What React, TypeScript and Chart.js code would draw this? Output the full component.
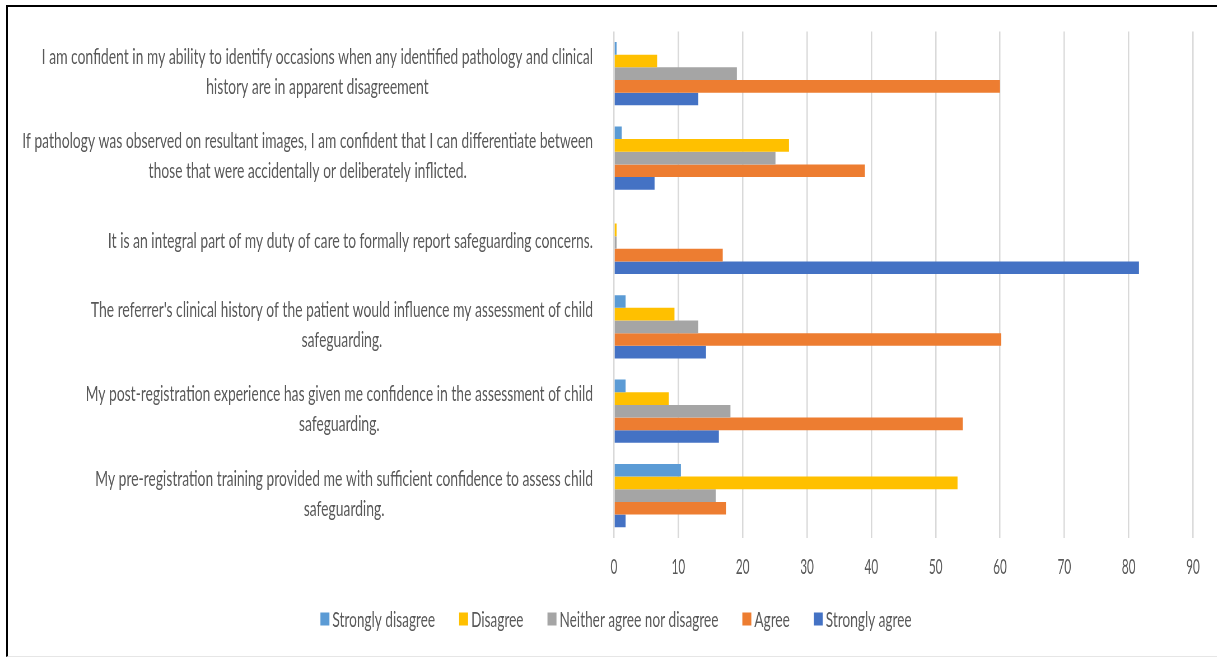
import React, { useEffect, useRef } from "react";
import { Chart, registerables } from "chart.js";

Chart.register(...registerables);

// ---------- data ----------
const categories: string[][] = [
  [
    "I am confident in my ability to identify occasions when any identified pathology and clinical",
    "history are in apparent disagreement",
  ],
  [
    "If pathology was observed on resultant images, I am confident that I can differentiate between",
    "those that were accidentally or deliberately inflicted.",
  ],
  ["It is an integral part of my duty of care to formally report safeguarding concerns."],
  ["The referrer's clinical history of the patient would influence my assessment of child", "safeguarding."],
  ["My post-registration experience has given me confidence in the assessment of child", "safeguarding."],
  ["My pre-registration training provided me with sufficient confidence to assess child", "safeguarding."],
];

const seriesNames = ["Strongly disagree", "Disagree", "Neither agree nor disagree", "Agree", "Strongly agree"];
const stronglyDisagree = [0.4, 1.2, 0, 1.8, 1.8, 10.4];
const disagree = [6.7, 27.2, 0.4, 9.4, 8.5, 53.4];
const neither = [19.1, 25.1, 0.4, 13.1, 18.1, 15.8];
const agree = [60.0, 39.0, 16.9, 60.2, 54.2, 17.4];
const stronglyAgree = [13.1, 6.3, 81.6, 14.3, 16.3, 1.8];
const seriesColors = ["#5B9BD5", "#FFC000", "#A5A5A5", "#ED7D31", "#4472C4"];

const xMin = 0;
const xMax = 90;
const xStep = 10;

// ---------- layout (real px) ----------
const W = 1217;
const H = 660;
const S = 0.56; // horizontal squeeze of the whole drawing
const VW = W / S;
const PLOT_LEFT = 614;
const PLOT_RIGHT = 1193;
const LABEL_RIGHT = 593;
const TICK_FONT = 21;
const LABEL_FONT = 21;
const LEGEND_FONT = 21;
const LABEL_STRETCH = 1.18;
const LEGEND_STRETCH = 1.16;
const LINE_H = 30;
const LABEL_SHIFT = -1.5;
const TEXT = "#595959";
const FONT = "Lato";

const textPlugin = {
  id: "customText",
  afterDraw(chart: any) {
    const ctx: CanvasRenderingContext2D = chart.ctx;
    const yScale = chart.scales.y;
    ctx.save();
    ctx.fillStyle = TEXT;
    ctx.textBaseline = "middle";
    ctx.textAlign = "center";
    ctx.font = `${LABEL_FONT}px ${FONT}`;
    const right = LABEL_RIGHT / S;
    (chart.data.labels as any[]).forEach((lab, i) => {
      const lines: string[] = Array.isArray(lab) ? lab : [lab];
      const w = Math.max(...lines.map((l) => ctx.measureText(l).width)) * LABEL_STRETCH;
      const cx = right - w / 2;
      const cy = yScale.getPixelForValue(i) + LABEL_SHIFT;
      ctx.save();
      ctx.scale(LABEL_STRETCH, 1);
      lines.forEach((l, j) =>
        ctx.fillText(l, cx / LABEL_STRETCH, cy + (j - (lines.length - 1) / 2) * LINE_H)
      );
      ctx.restore();
    });

    // legend
    ctx.font = `${LEGEND_FONT}px ${FONT}`;
    const boxW = 9 / S;
    const boxH = 13;
    const gapBox = 3 / S;
    const gapItem = 24 / S;
    const items = chart.data.datasets.map((d: any) => ({
      label: d.label,
      color: d.backgroundColor,
      tw: ctx.measureText(d.label).width * LEGEND_STRETCH,
    }));
    const total =
      items.reduce((a: number, it: any) => a + boxW + gapBox + it.tw, 0) + gapItem * (items.length - 1);
    let x = 616 / S - total / 2;
    const ly = 619;
    ctx.textAlign = "left";
    items.forEach((it: any) => {
      ctx.fillStyle = it.color;
      ctx.fillRect(x, ly - boxH / 2, boxW, boxH);
      x += boxW + gapBox;
      ctx.fillStyle = TEXT;
      ctx.save();
      ctx.scale(LEGEND_STRETCH, 1);
      ctx.fillText(it.label, x / LEGEND_STRETCH, ly + 1);
      ctx.restore();
      x += it.tw + gapItem;
    });
    ctx.restore();
  },
};

export default function App() {
  const ref = useRef<HTMLCanvasElement | null>(null);

  useEffect(() => {
    if (!ref.current) return;
    const seriesValues = [stronglyDisagree, disagree, neither, agree, stronglyAgree];
    const tickPad = 17;
    const chart = new Chart(ref.current, {
      type: "bar",
      data: {
        labels: categories as any,
        datasets: seriesNames.map((name, i) => ({
          label: name,
          data: seriesValues[i],
          backgroundColor: seriesColors[i],
          borderWidth: 0,
          categoryPercentage: 0.75,
          barPercentage: 1.0,
        })),
      },
      options: {
        indexAxis: "y",
        animation: false,
        responsive: true,
        maintainAspectRatio: false,
        layout: {
          padding: {
            left: 0,
            top: 31.5,
            right: VW - PLOT_RIGHT / S,
            bottom: 63,
          },
        },
        plugins: {
          legend: { display: false },
          tooltip: { enabled: false },
        },
        scales: {
          x: {
            type: "linear",
            min: xMin,
            max: xMax,
            ticks: {
              stepSize: xStep,
              color: TEXT,
              padding: tickPad,
              font: { family: FONT, size: TICK_FONT },
            },
            grid: { color: "#D9D9D9", lineWidth: 2.5, drawTicks: false },
            border: { display: false },
          },
          y: {
            type: "category",
            ticks: { display: false },
            grid: { display: false },
            border: { display: false },
            afterFit(scale: any) {
              scale.width = PLOT_LEFT / S;
            },
          },
        },
      },
      plugins: [textPlugin],
    });
    return () => chart.destroy();
  }, []);

  return (
    <div
      style={{
        position: "fixed",
        left: 0,
        top: 0,
        width: W,
        height: H,
        background: "#fff",
        overflow: "hidden",
      }}
    >
      <div
        style={{
          position: "absolute",
          left: 6,
          top: 5,
          width: W + 10,
          height: H - 8,
          borderLeft: "2px solid #000",
          borderTop: "2px solid #000",
          borderBottom: "1px solid #E6E6E6",
          boxSizing: "border-box",
        }}
      />
      <div
        style={{
          position: "absolute",
          left: 0,
          top: 0,
          width: VW,
          height: H,
          transform: `scaleX(${S})`,
          transformOrigin: "0 0",
        }}
      >
        <canvas ref={ref} />
      </div>
    </div>
  );
}
